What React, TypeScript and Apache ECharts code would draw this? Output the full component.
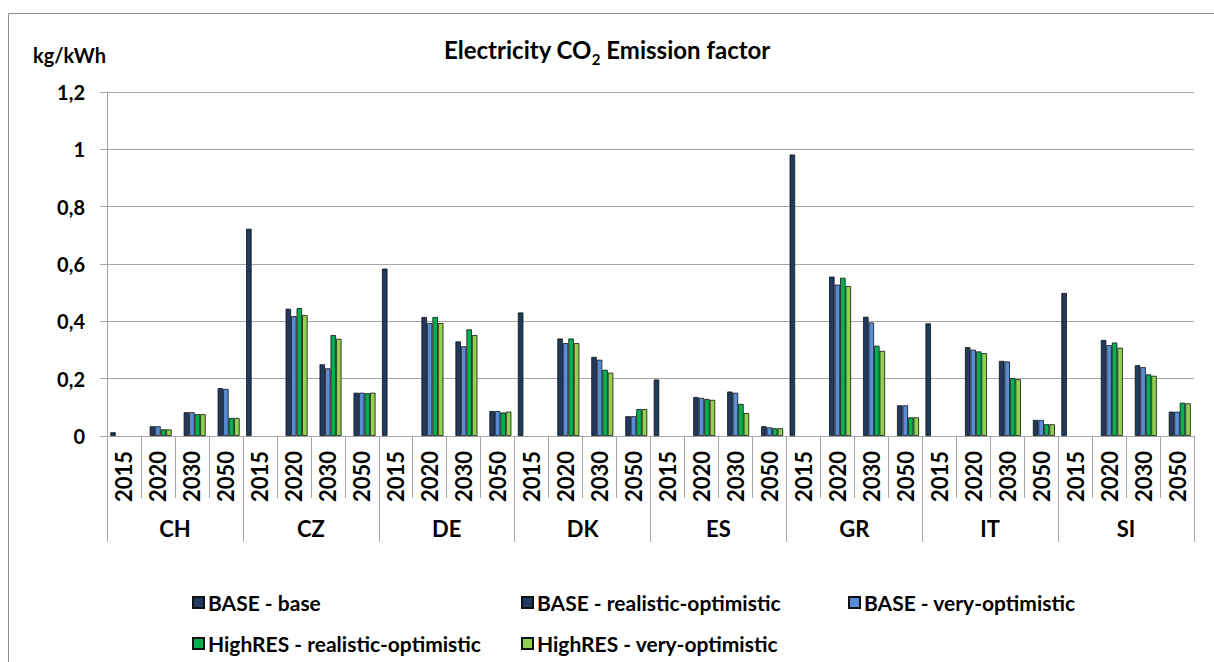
import React, { useEffect, useRef } from "react";
import * as echarts from "echarts";

const countries = ["CH", "CZ", "DE", "DK", "ES", "GR", "IT", "SI"];
const years = ["2015", "2020", "2030", "2050"];
const yTicks = [0, 0.2, 0.4, 0.6, 0.8, 1, 1.2];

// BASE - base: only 2015, one value per country
const baseBase2015 = [0.013, 0.723, 0.584, 0.431, 0.197, 0.982, 0.393, 0.499];
// Other scenarios: 2020, 2030, 2050 per country
const baseRealOpt = [
  [0.034, 0.083, 0.167], [0.444, 0.25, 0.151], [0.415, 0.33, 0.087], [0.34, 0.276, 0.069],
  [0.136, 0.155, 0.034], [0.556, 0.416, 0.107], [0.31, 0.262, 0.056], [0.335, 0.247, 0.085],
];
const baseVeryOpt = [
  [0.034, 0.083, 0.164], [0.418, 0.236, 0.151], [0.394, 0.313, 0.087], [0.324, 0.266, 0.069],
  [0.133, 0.151, 0.03], [0.528, 0.396, 0.107], [0.301, 0.26, 0.056], [0.317, 0.24, 0.085],
];
const highResRealOpt = [
  [0.023, 0.076, 0.063], [0.446, 0.352, 0.149], [0.415, 0.372, 0.082], [0.34, 0.231, 0.094],
  [0.129, 0.112, 0.027], [0.552, 0.315, 0.065], [0.295, 0.202, 0.041], [0.326, 0.215, 0.116],
];
const highResVeryOpt = [
  [0.023, 0.076, 0.063], [0.422, 0.339, 0.151], [0.394, 0.352, 0.085], [0.324, 0.221, 0.094],
  [0.126, 0.08, 0.027], [0.523, 0.297, 0.065], [0.289, 0.198, 0.041], [0.308, 0.21, 0.114],
];

const seriesNames = [
  "BASE - base",
  "BASE - realistic-optimistic",
  "BASE - very-optimistic",
  "HighRES - realistic-optimistic",
  "HighRES - very-optimistic",
];
const seriesColors = ["#213A5E", "#213A5E", "#568DD6", "#00B050", "#92D050"];

const FONT = "Lato";
const GRAY = "#a6a6a6";

function buildCategories() {
  const out: string[] = [];
  countries.forEach((c) => years.forEach((y) => out.push(c + "_" + y)));
  return out;
}
function buildBase() {
  const out: (number | null)[] = [];
  baseBase2015.forEach((v) => out.push(v, null, null, null));
  return out;
}
function buildLater(arr: number[][]) {
  const out: (number | null)[] = [];
  arr.forEach((row) => out.push(null, row[0], row[1], row[2]));
  return out;
}

export default function App() {
  const ref = useRef<HTMLDivElement>(null);
  useEffect(() => {
    if (!ref.current) return;
    const chart = echarts.init(ref.current, null, { renderer: "svg" });
    const cats = buildCategories();
    const datas = [
      buildBase(),
      buildLater(baseRealOpt),
      buildLater(baseVeryOpt),
      buildLater(highResRealOpt),
      buildLater(highResVeryOpt),
    ];
    const legendPos = [
      [187, 587], [516, 587], [843, 587], [187, 628], [516, 628],
    ];
    const option: any = {
      animation: false,
      backgroundColor: "#ffffff",
      title: {
        text: "Electricity CO{sub|2} Emission factor",
        left: "center",
        top: 27,
        textStyle: {
          fontFamily: FONT,
          fontWeight: "bold",
          fontSize: 24,
          color: "#000",
          lineHeight: 34,
          rich: {
            sub: { fontFamily: FONT, fontWeight: "bold", fontSize: 15, lineHeight: 16, verticalAlign: "bottom", color: "#000" },
          },
        },
      },
      graphic: [
        {
          type: "rect",
          shape: { x: 8.5, y: 13.5, width: 1230, height: 700 },
          style: { fill: "none", stroke: "#8c8c8c", lineWidth: 1 },
          silent: true,
        },
        {
          type: "text",
          x: 33,
          y: 55,
          style: { text: "kg/kWh", fontFamily: FONT, fontWeight: "bold", fontSize: 20, fill: "#000", verticalAlign: "middle" },
        },
      ],
      legend: seriesNames.map((n, i) => ({
        data: [n],
        left: legendPos[i][0],
        top: legendPos[i][1],
        icon: "rect",
        itemWidth: 11,
        itemHeight: 11,
        itemGap: 8,
        selectedMode: false,
        textStyle: { fontFamily: FONT, fontWeight: "bold", fontSize: 21, color: "#000", padding: [0, 0, 0, -1] },
      })),
      grid: { left: 107, right: 20, top: 92, bottom: 226, containLabel: false },
      xAxis: [
        {
          type: "category",
          data: cats,
          position: "bottom",
          axisLine: { show: true, lineStyle: { color: GRAY, width: 1 } },
          axisTick: { show: true, interval: 0, length: 62, lineStyle: { color: GRAY } },
          axisLabel: {
            interval: 0,
            rotate: 90,
            margin: 15,
            fontFamily: FONT,
            fontWeight: "bold",
            fontSize: 22,
            color: "#000",
            formatter: (v: string) => v.split("_")[1],
          },
        },
        {
          type: "category",
          data: countries,
          position: "bottom",
          offset: 0,
          axisLine: { show: false },
          axisTick: { show: true, interval: 0, length: 106, lineStyle: { color: GRAY } },
          axisLabel: {
            interval: 0,
            margin: 81,
            fontFamily: FONT,
            fontWeight: "bold",
            fontSize: 22,
            color: "#000",
          },
        },
      ],
      yAxis: {
        type: "value",
        min: 0,
        max: yTicks[yTicks.length - 1],
        interval: 0.2,
        axisLine: { show: true, lineStyle: { color: GRAY } },
        axisTick: { show: true, length: 7, lineStyle: { color: GRAY } },
        splitLine: { show: true, lineStyle: { color: GRAY, width: 1 } },
        axisLabel: {
          margin: 22,
          fontFamily: FONT,
          fontWeight: "bold",
          fontSize: 20,
          color: "#000",
          formatter: (v: number) => String(Math.round(v * 10) / 10).replace(".", ","),
        },
      },
      series: seriesNames.map((n, i) => ({
        name: n,
        type: "bar",
        xAxisIndex: 0,
        data: datas[i],
        barGap: "0%",
        barCategoryGap: "19%",
        itemStyle: { color: seriesColors[i], borderColor: "#111", borderWidth: 0.8 },
      })),
    };
    chart.setOption(option);
    return () => chart.dispose();
  }, []);
  return (
    <div
      ref={ref}
      style={{ position: "fixed", left: 0, top: 0, width: 1214, height: 662, background: "#fff" }}
    />
  );
}
